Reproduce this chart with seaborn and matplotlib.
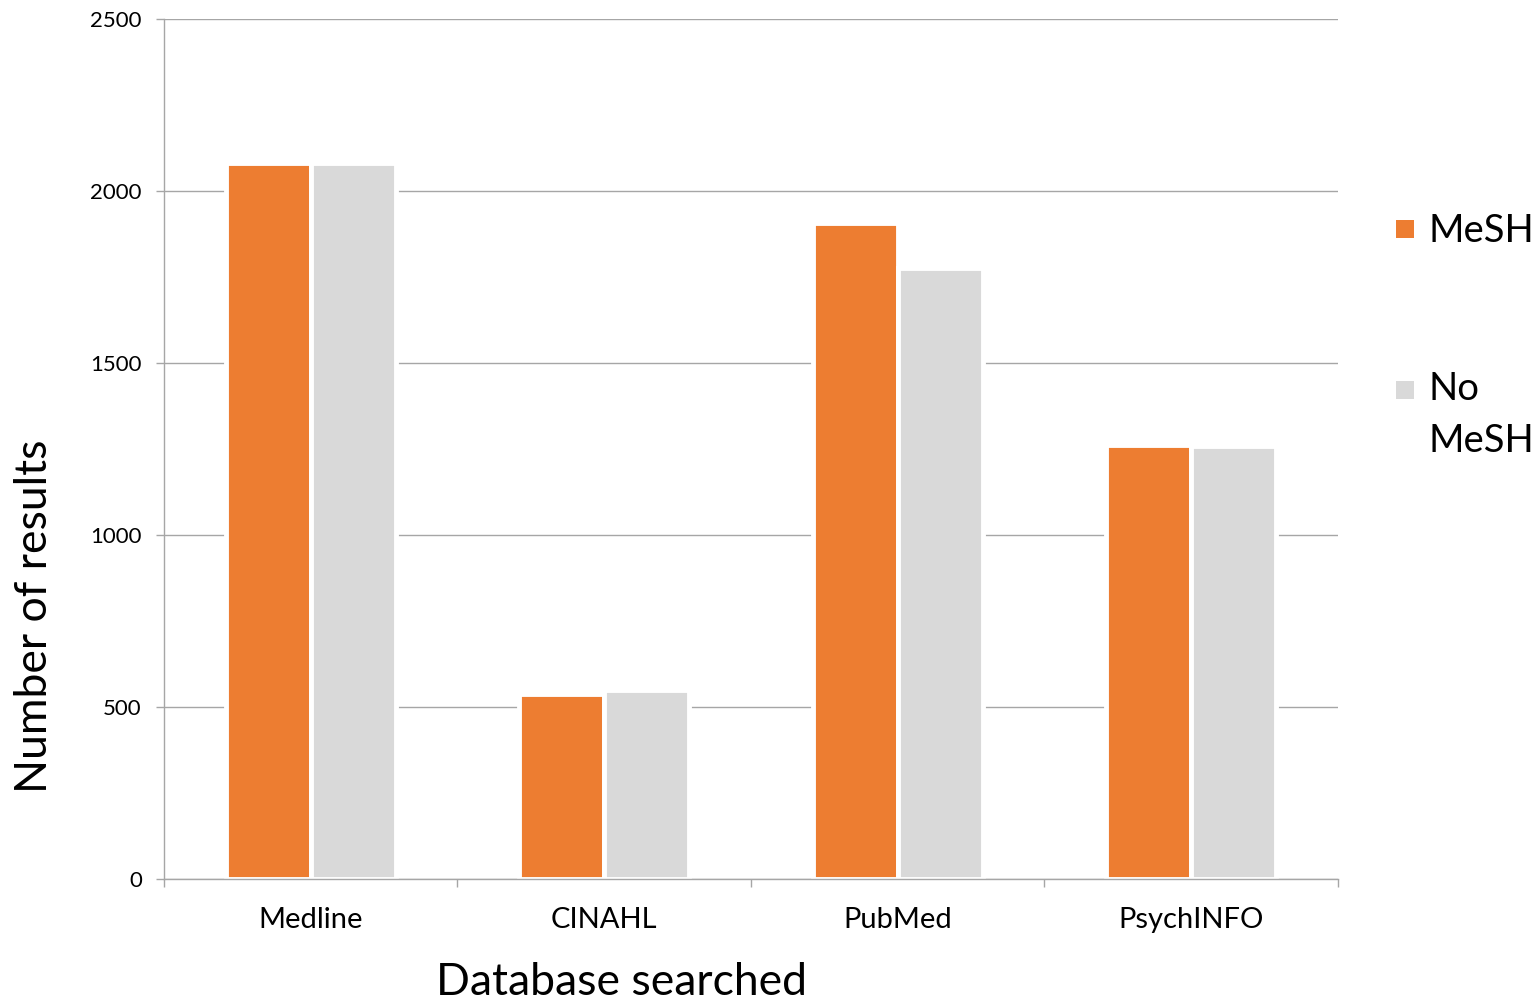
import numpy as np
import pandas as pd
import matplotlib
matplotlib.use("Agg")
import matplotlib.pyplot as plt
import matplotlib.patches as mpatches
from matplotlib.legend_handler import HandlerPatch
import seaborn as sns


databases = ["Medline", "CINAHL", "PubMed", "PsychINFO"]

mesh_results = [2082, 537, 1908, 1262]

no_mesh_results = [2082, 548, 1777, 1260]

series_names = ["MeSH", "No\nMeSH"]

y_ticks = [0, 500, 1000, 1500, 2000, 2500]

ORANGE = "#ED7D31"
GREY = "#D9D9D9"
AXIS_GREY = "#A6A6A6"

SQUARE_PT = 13.0


def square_handler(shift):

    def make_patch(legend, orig_handle, xdescent, ydescent, width, height, fontsize):
        y0 = -ydescent + height / 2 - SQUARE_PT / 2 + shift
        return mpatches.Rectangle( (-xdescent, y0), SQUARE_PT, SQUARE_PT )

    return HandlerPatch( patch_func=make_patch )


def main():

    sns.set_style( "white" )
    plt.rcParams["font.family"] = ["Lato", "DejaVu Sans"]
    plt.rcParams["text.color"] = "black"
    plt.rcParams["axes.labelcolor"] = "black"
    plt.rcParams["xtick.labelcolor"] = "black"
    plt.rcParams["ytick.labelcolor"] = "black"

    df = pd.DataFrame(
        {
            "database": databases * 2,
            "results": mesh_results + no_mesh_results,
            "search": [series_names[0]] * 4 + [series_names[1]] * 4,
        }
    )

    fig = plt.figure( figsize=(15.34, 10.01), dpi=100 )

    ax = fig.add_axes( [0.1069, 0.1219, 0.7653, 0.8591] )

    sns.barplot(
        data=df,
        x="database",
        y="results",
        hue="search",
        palette=[ORANGE, GREY],
        width=0.58,
        edgecolor="white",
        linewidth=3.5,
        saturation=1,
        legend=False,
        ax=ax
    )

    # -----------------------
    # Axes
    # -----------------------

    ax.set_xlim( -0.5, 3.5 )
    ax.set_ylim( 0, 2500 )
    ax.set_yticks( y_ticks )
    ax.set_yticklabels( [str(v) for v in y_ticks] )

    ax.set_axisbelow( True )
    ax.yaxis.grid( True, color=AXIS_GREY, linewidth=1.0 )
    ax.xaxis.grid( False )

    for side in ["top", "right"]:
        ax.spines[side].set_visible( False )

    for side in ["left", "bottom"]:
        ax.spines[side].set_color( AXIS_GREY )
        ax.spines[side].set_linewidth( 1.0 )

    ax.tick_params(
        axis="y",
        length=6,
        width=1.0,
        color=AXIS_GREY,
        labelcolor="black",
        labelsize=16,
        pad=10,
        left=True
    )

    ax.tick_params(
        axis="x",
        which="major",
        length=0,
        labelcolor="black",
        labelsize=21,
        pad=20
    )

    ax.set_xticks( np.arange( -0.5, 4.0, 1.0 ), minor=True )
    ax.tick_params(
        axis="x",
        which="minor",
        length=6,
        width=1.0,
        color=AXIS_GREY,
        bottom=True
    )

    ax.set_xlabel( "Database searched", fontsize=32, color="black" )
    ax.set_ylabel( "Number of results", fontsize=32, color="black" )
    ax.xaxis.set_label_coords( 0.390, -0.096 )
    ax.yaxis.set_label_coords( -0.093, 0.305 )

    # -----------------------
    # Legend
    # -----------------------

    mesh_patch = mpatches.Patch( facecolor=ORANGE, edgecolor="none" )
    no_mesh_patch = mpatches.Patch( facecolor=GREY, edgecolor="none" )

    leg = ax.legend(
        [mesh_patch, no_mesh_patch],
        series_names,
        loc="upper left",
        bbox_to_anchor=(0.910, 0.787),
        bbox_transform=fig.transFigure,
        handler_map={
            mesh_patch: square_handler( 0 ),
            no_mesh_patch: square_handler( 18.7 ),
        },
        frameon=False,
        fontsize=27.5,
        handlelength=0.47,
        handleheight=0.47,
        handletextpad=0.37,
        labelspacing=3.2,
        borderpad=0,
        borderaxespad=0
    )

    for text in leg.get_texts():
        text.set_linespacing( 1.53 )
        text.set_color( "black" )

    fig.savefig( "out.png", dpi=100 )

    plt.close( fig )


if __name__ == "__main__":
    main()
